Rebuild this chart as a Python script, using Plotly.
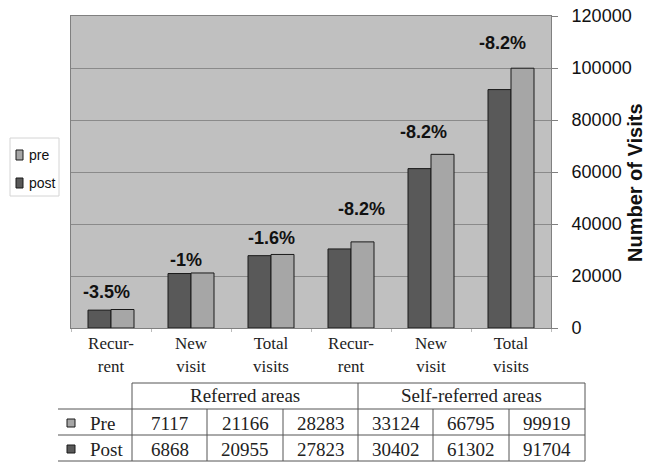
import plotly.graph_objects as go

# ---- data ----
categories = ["Recur-<br>rent", "New<br>visit", "Total<br>visits",
              "Recur-<br>rent", "New<br>visit", "Total<br>visits"]
pre = [7117, 21166, 28283, 33124, 66795, 99919]
post = [6868, 20955, 27823, 30402, 61302, 91704]
change_labels = ["-3.5%", "-1%", "-1.6%", "-8.2%", "-8.2%", "-8.2%"]
group_labels = ["Referred areas", "Self-referred areas"]
y_ticks = [0, 20000, 40000, 60000, 80000, 100000, 120000]

# ---- style ----
OFF = 8  # page body margin of the viewer
W, H = 651 - OFF, 463 - OFF
L, T = 71 - OFF, 16 - OFF
PW, PH = 480, 312
R, B = W - L - PW, H - T - PH
PRE_COLOR = "#a6a6a6"
POST_COLOR = "#595959"
SERIF = "Liberation Serif"
SANS = "Liberation Sans"
label_xshift = [-5, -5, 0, 10, -8, -9]
label_yshift = [18, 13, 16, 33, 22, 25]


def px(x):
    # page pixel -> paper coordinate
    return (x - OFF - L) / PW


def py(y):
    return 1 - (y - OFF - T) / PH


idx = list(range(len(categories)))

fig = go.Figure()
fig.add_bar(x=idx, y=post, name="post", marker=dict(color=POST_COLOR, line=dict(color="#1a1a1a", width=1)))
fig.add_bar(x=idx, y=pre, name="pre", marker=dict(color=PRE_COLOR, line=dict(color="#1a1a1a", width=1)))

annotations = []
for i, lab in enumerate(change_labels):
    annotations.append(dict(x=idx[i], y=pre[i], xref="x", yref="y", text=lab, showarrow=False,
                            xshift=label_xshift[i], yshift=label_yshift[i], xanchor="center", yanchor="middle",
                            font=dict(family=SANS, size=18, color="#111111", weight="bold")))

# y-axis title
annotations.append(dict(x=px(635), y=py(183), xref="paper", yref="paper", text="<b>Number of Visits</b>",
                        textangle=-90, showarrow=False, xanchor="center", yanchor="middle",
                        font=dict(family=SANS, size=20, color="#111111")))

shapes = []
# manual legend
shapes.append(dict(type="rect", xref="paper", yref="paper", x0=px(10), x1=px(59), y0=py(138), y1=py(196),
                   line=dict(color="#d4d4d4", width=1), fillcolor="white"))
for name, color, yc in [("pre", PRE_COLOR, 155), ("post", POST_COLOR, 183)]:
    shapes.append(dict(type="rect", xref="paper", yref="paper", x0=px(16), x1=px(23), y0=py(yc - 5), y1=py(yc + 5),
                       line=dict(color="#1a1a1a", width=1), fillcolor=color))
    annotations.append(dict(x=px(27), y=py(yc), xref="paper", yref="paper", text=name, showarrow=False,
                            xanchor="left", yanchor="middle", font=dict(family=SANS, size=14, color="#111111")))

# table
line = dict(color="#555555", width=1)
cols = [132, 207, 283, 358, 433, 509, 585]
rows = [383, 409, 435, 461]


def hline(x0, x1, y):
    shapes.append(dict(type="line", xref="paper", yref="paper", x0=px(x0), x1=px(x1), y0=py(y), y1=py(y), line=line))


def vline(x, y0, y1):
    shapes.append(dict(type="line", xref="paper", yref="paper", x0=px(x), x1=px(x), y0=py(y0), y1=py(y1), line=line))


hline(132, 585, rows[0])
for y in rows[1:]:
    hline(58, 585, y)
for x in [132, 358, 585]:
    vline(x, rows[0], rows[3])
for x in [207, 283, 433, 509]:
    vline(x, rows[1], rows[3])

tfont = dict(family=SERIF, size=19, color="#222222")
for g, lab in enumerate(group_labels):
    xc = (cols[g * 3] + cols[g * 3 + 3]) / 2
    annotations.append(dict(x=px(xc), y=py(396), xref="paper", yref="paper", text=lab, showarrow=False,
                            xanchor="center", yanchor="middle", font=tfont))

for rname, color, vals, yc in [("Pre", PRE_COLOR, pre, 423), ("Post", POST_COLOR, post, 449)]:
    shapes.append(dict(type="rect", xref="paper", yref="paper", x0=px(67), x1=px(75), y0=py(yc - 4), y1=py(yc + 4),
                       line=dict(color="#1a1a1a", width=1), fillcolor=color))
    annotations.append(dict(x=px(88), y=py(yc), xref="paper", yref="paper", text=rname, showarrow=False,
                            xanchor="left", yanchor="middle", font=tfont))
    for j, v in enumerate(vals):
        xc = (cols[j] + cols[j + 1]) / 2
        annotations.append(dict(x=px(xc), y=py(yc), xref="paper", yref="paper", text=str(v), showarrow=False,
                                xanchor="center", yanchor="middle", font=tfont))

fig.update_layout(
    width=W, height=H,
    margin=dict(l=L, r=R, t=T, b=B),
    paper_bgcolor="white", plot_bgcolor="#c0c0c0",
    barmode="group", bargap=0.425, bargroupgap=0,
    showlegend=False,
    annotations=annotations, shapes=shapes,
    xaxis=dict(range=[-0.5, 5.5], tickvals=idx, ticktext=categories, showgrid=False, ticks="",
               showline=True, linecolor="#808080", mirror=True, zeroline=False, automargin=False,
               tickfont=dict(family=SERIF, size=17, color="#222222"),
               minor=dict(tickvals=[i - 0.5 for i in idx] + [5.5], ticks="outside", ticklen=3,
                          tickcolor="#bbbbbb", showgrid=False)),
    yaxis=dict(range=[0, 120000], tickvals=y_ticks, tickformat="d", side="right", gridcolor="#8a8a8a",
               gridwidth=1, ticks="outside", ticklen=6, tickcolor="#808080", showline=True,
               linecolor="#808080", mirror=True, zeroline=False, ticklabelstandoff=10, automargin=False,
               ticklabeloverflow="allow",
               tickfont=dict(family=SANS, size=18, color="#111111")),
)

fig.write_html("out.html")
